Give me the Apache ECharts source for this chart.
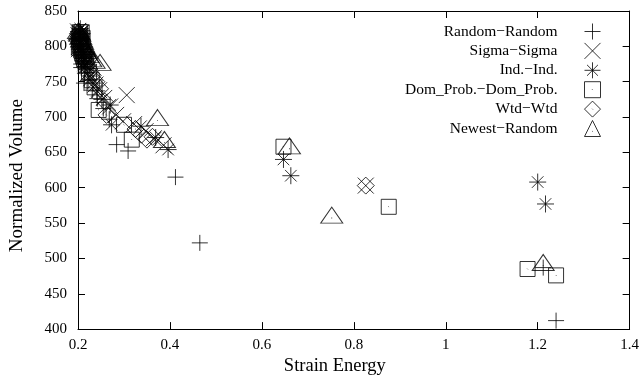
<!DOCTYPE html>
<html>
<head>
<meta charset="utf-8">
<script src="https://cdn.jsdelivr.net/npm/echarts@6/dist/echarts.min.js"></script>
<style>
  html, body { margin: 0; padding: 0; background: #fff; }
  #chart { width: 642px; height: 381px; }
</style>
</head>
<body>
<div id="chart"></div>
<script>
// values: [strain energy, normalized volume]
var randomRandom = [
  [0.199, 820], [0.205, 820], [0.201, 818], [0.202, 815], [0.203, 811], [0.204, 808],
  [0.201, 804], [0.201, 800], [0.205, 798], [0.206, 795], [0.208, 791], [0.209, 788],
  [0.211, 783], [0.212, 779], [0.207, 775], [0.207, 770], [0.215, 762], [0.213, 748],
  [0.222, 752], [0.231, 738], [0.242, 726], [0.255, 712], [0.268, 697], [0.284, 661],
  [0.309, 652], [0.412, 615], [0.465, 522], [1.212, 487], [1.240, 412]
];
var sigmaSigma = [
  [0.200, 821], [0.207, 819], [0.201, 816], [0.203, 818], [0.204, 814], [0.205, 810],
  [0.207, 806], [0.208, 803], [0.202, 799], [0.202, 796], [0.210, 793], [0.211, 790],
  [0.213, 785], [0.214, 781], [0.216, 776], [0.218, 772], [0.223, 763], [0.229, 755],
  [0.238, 746], [0.246, 738], [0.257, 727], [0.270, 715], [0.306, 731], [0.283, 703],
  [0.298, 694], [0.322, 690], [0.347, 680], [0.365, 670], [0.386, 660], [0.826, 603]
];
var indInd = [
  [0.205, 825], [0.201, 821], [0.209, 818], [0.203, 817], [0.205, 814], [0.206, 812],
  [0.205, 808], [0.204, 804], [0.207, 800], [0.209, 796], [0.211, 792], [0.212, 788],
  [0.214, 783], [0.216, 779], [0.218, 774], [0.221, 769], [0.226, 758], [0.233, 748],
  [0.241, 737], [0.252, 725], [0.270, 717], [0.273, 689], [0.337, 687], [0.369, 671],
  [0.396, 654], [0.647, 640], [0.663, 617], [1.200, 608], [1.217, 577]
];
var domProb = [
  [0.199, 820], [0.204, 820], [0.208, 820], [0.203, 813], [0.210, 812], [0.206, 806],
  [0.204, 802], [0.202, 798], [0.207, 794], [0.209, 790], [0.211, 786], [0.213, 782],
  [0.216, 778], [0.218, 774], [0.224, 764], [0.230, 752], [0.236, 742], [0.245, 710],
  [0.300, 689], [0.317, 668], [0.647, 658], [0.876, 573], [1.178, 485], [1.240, 476]
];
var wtdWtd = [
  [0.200, 818], [0.206, 817], [0.202, 814], [0.204, 810], [0.205, 806], [0.207, 802],
  [0.208, 798], [0.210, 794], [0.212, 790], [0.214, 786], [0.216, 781], [0.219, 777],
  [0.225, 768], [0.232, 759], [0.240, 750], [0.248, 740], [0.258, 722], [0.262, 703],
  [0.325, 683], [0.338, 675], [0.350, 668], [0.362, 672], [0.826, 603]
];
var newestRandom = [
  [0.201, 818], [0.203, 816], [0.204, 814], [0.206, 810], [0.208, 806], [0.210, 803],
  [0.212, 799], [0.213, 796], [0.215, 793], [0.217, 790], [0.222, 784], [0.228, 778],
  [0.235, 776], [0.248, 773], [0.373, 695], [0.388, 664], [0.660, 655], [0.752, 557],
  [1.212, 490]
];
var seriesNames = ['Random\u2212Random', 'Sigma\u2212Sigma', 'Ind.\u2212Ind.',
  'Dom_Prob.\u2212Dom_Prob.', 'Wtd\u2212Wtd', 'Newest\u2212Random'];

// gnuplot-like point types
var symPlus = 'path://M0,5L10,5M5,0L5,10';
var symCross = 'path://M0,0L10,10M0,10L10,0';
var symStar = 'path://M0,5L10,5M5,0L5,10M1.6,1.6L8.4,8.4M1.6,8.4L8.4,1.6';
var symSquare = 'path://M0,0L10,0L10,10L0,10ZM4.8,4.8L5.2,5.2';
var symDiamond = 'path://M5,0L10,5L5,10L0,5ZM4.8,4.8L5.2,5.2';
var symTriangle = 'path://M5,0L10,10L0,10ZM4.8,6.8L5.2,6.8';

var font = 'Liberation Serif';
var pointStyle = { color: 'transparent', borderColor: '#000', borderWidth: 1 };

function makeSeries(name, data, symbol, size, offset) {
  return {
    name: name,
    type: 'scatter',
    data: data,
    symbol: symbol,
    symbolSize: size,
    symbolOffset: offset || [0, 0],
    itemStyle: pointStyle,
    emphasis: { disabled: true },
    animation: false
  };
}

var axisCommon = {
  axisLine: { lineStyle: { color: '#000', width: 1 } },
  axisTick: { inside: true, length: 7, lineStyle: { color: '#000' } },
  splitLine: { show: false }
};

var option = {
  animation: false,
  grid: { left: 76, right: 10, top: 11, bottom: 46 },
  legend: {
    orient: 'vertical',
    right: 41,
    top: 23,
    padding: 0,
    align: 'right',
    itemWidth: 16,
    itemHeight: 16,
    itemGap: 2.4,
    selectedMode: false,
    itemStyle: { color: 'transparent', borderColor: '#000', borderWidth: 1 },
    textStyle: { fontFamily: font, fontSize: 15.5, color: '#000', padding: [0, 22, 0, 0] },
    data: [
      { name: seriesNames[0], icon: symPlus },
      { name: seriesNames[1], icon: symCross },
      { name: seriesNames[2], icon: symStar },
      { name: seriesNames[3], icon: symSquare },
      { name: seriesNames[4], icon: symDiamond },
      { name: seriesNames[5], icon: symTriangle }
    ]
  },
  xAxis: [
    Object.assign({}, axisCommon, {
      type: 'value', min: 0.2, max: 1.4, interval: 0.2,
      name: 'Strain Energy', nameLocation: 'middle', nameGap: 21,
      nameTextStyle: { fontFamily: font, fontSize: 18.5, color: '#000', padding: [0, 38, 0, 0] },
      axisLabel: { fontFamily: font, fontSize: 15, color: '#000', margin: 8 }
    }),
    Object.assign({}, axisCommon, {
      type: 'value', position: 'top', min: 0.2, max: 1.4, interval: 0.2,
      axisLabel: { show: false }
    })
  ],
  yAxis: [
    Object.assign({}, axisCommon, {
      type: 'value', min: 400, max: 850, interval: 50,
      name: 'Normalized Volume', nameLocation: 'middle', nameGap: 51,
      nameTextStyle: { fontFamily: font, fontSize: 19, color: '#000', padding: [0, 11, 0, 0] },
      axisLabel: { fontFamily: font, fontSize: 15, color: '#000', margin: 11 }
    }),
    Object.assign({}, axisCommon, {
      type: 'value', position: 'right', min: 400, max: 850, interval: 50,
      axisLabel: { show: false }
    })
  ],
  series: [
    makeSeries(seriesNames[0], randomRandom, symPlus, 16),
    makeSeries(seriesNames[1], sigmaSigma, symCross, 16),
    makeSeries(seriesNames[2], indInd, symStar, 17),
    makeSeries(seriesNames[3], domProb, symSquare, 15),
    makeSeries(seriesNames[4], wtdWtd, symDiamond, 17),
    makeSeries(seriesNames[5], newestRandom, symTriangle, [22, 16], [0, -3])
  ]
};

var chart = echarts.init(document.getElementById('chart'));
chart.setOption(option);
</script>
</body>
</html>
